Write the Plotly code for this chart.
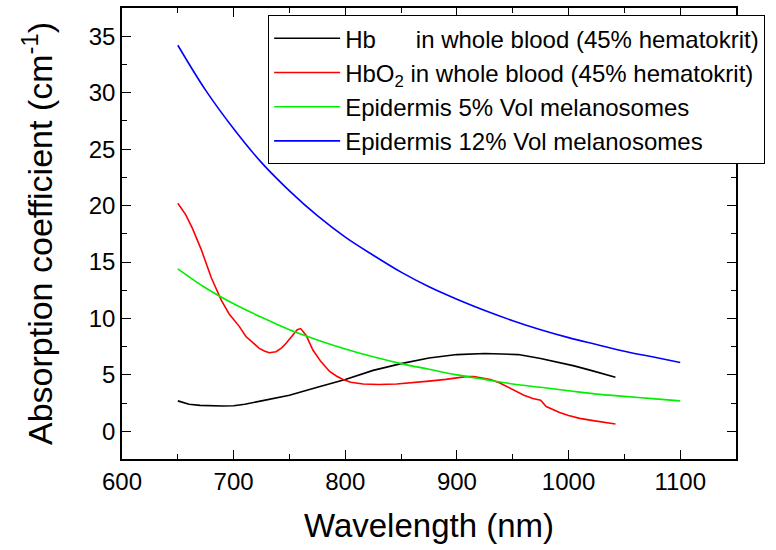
import plotly.graph_objects as go

# Data
wl_mel = [650, 675, 700, 725, 750, 775, 800, 825, 850, 875, 900, 925, 950, 975,
          1000, 1025, 1050, 1075, 1100]
epi12 = [34.2, 30.2, 26.8, 23.8, 21.3, 19.1, 17.2, 15.6, 14.1, 12.8, 11.7, 10.7,
         9.8, 9.0, 8.3, 7.7, 7.1, 6.6, 6.1]
epi5 = [14.4, 12.7, 11.3, 10.1, 9.0, 8.1, 7.3, 6.6, 6.0, 5.5, 5.0, 4.6, 4.2,
        3.9, 3.6, 3.3, 3.1, 2.9, 2.7]

wl_hb = [650, 660, 670, 680, 690, 700, 710, 725, 750, 775, 800, 825, 850, 875,
         900, 925, 940, 955, 975, 990, 1005, 1020, 1030, 1042]
hb = [2.7, 2.4, 2.3, 2.26, 2.25, 2.27, 2.4, 2.7, 3.2, 3.9, 4.6, 5.4, 6.0, 6.5,
      6.8, 6.9, 6.88, 6.8, 6.45, 6.15, 5.8, 5.4, 5.1, 4.8]

wl_hbo2 = [650, 657, 663, 671, 680, 689, 696, 705, 711, 718, 723, 728, 732, 738,
           743, 747, 752, 757, 760, 765, 771, 778, 786, 792, 798, 805, 816, 830,
           846, 860, 875, 890, 908, 915, 923, 930, 938, 945, 953, 960, 968, 975,
           980, 986, 992, 1000, 1010, 1022, 1032, 1042]
hbo2 = [20.2, 19.2, 18.0, 16.1, 13.6, 11.6, 10.4, 9.3, 8.4, 7.8, 7.35, 7.1, 6.96,
        7.05, 7.4, 7.8, 8.4, 9.0, 9.1, 8.5, 7.2, 6.2, 5.3, 4.9, 4.6, 4.35, 4.2,
        4.15, 4.2, 4.3, 4.45, 4.6, 4.85, 4.85, 4.75, 4.6, 4.3, 3.95, 3.5, 3.2,
        2.9, 2.75, 2.2, 1.9, 1.67, 1.4, 1.15, 0.95, 0.8, 0.65]

x_ticks = [600, 700, 800, 900, 1000, 1100]
y_ticks = [0, 5, 10, 15, 20, 25, 30, 35]

FONT = "Liberation Sans, Arial, sans-serif"
sp = "\u00a0"

fig = go.Figure()
fig.add_trace(go.Scatter(x=wl_hb, y=hb, mode="lines",
                         line=dict(color="#000000", width=1.6),
                         name="Hb" + sp * 6 + "in whole blood (45% hematokrit)"))
fig.add_trace(go.Scatter(x=wl_hbo2, y=hbo2, mode="lines",
                         line=dict(color="#ff0000", width=1.6),
                         name="HbO<sub>2</sub> in whole blood (45% hematokrit)"))
fig.add_trace(go.Scatter(x=wl_mel, y=epi5, mode="lines",
                         line=dict(color="#00ee00", width=1.6, shape="spline"),
                         name="Epidermis 5% Vol melanosomes"))
fig.add_trace(go.Scatter(x=wl_mel, y=epi12, mode="lines",
                         line=dict(color="#0000ff", width=1.6, shape="spline"),
                         name="Epidermis 12% Vol melanosomes"))

axis_common = dict(
    showgrid=False, zeroline=False, showline=True, linecolor="black",
    linewidth=1.5, mirror="ticks", ticks="inside", ticklen=9, tickwidth=1.3,
    tickcolor="black", tickfont=dict(family=FONT, size=24, color="black"),
)

fig.update_layout(
    width=776, height=550,
    margin=dict(l=122, r=40, t=6, b=91),
    paper_bgcolor="white", plot_bgcolor="white",
    font=dict(family=FONT, color="black"),
    xaxis=dict(
        range=[600, 1150], tickvals=x_ticks,
        minor=dict(dtick=50, tick0=600, ticks="inside", ticklen=5,
                   tickwidth=1.3, tickcolor="black"),
        title=dict(text="Wavelength (nm)", font=dict(family=FONT, size=33),
                   standoff=20),
        **axis_common,
    ),
    yaxis=dict(
        range=[-2.45, 37.5], tickvals=y_ticks,
        minor=dict(dtick=2.5, tick0=0, ticks="inside", ticklen=5,
                   tickwidth=1.3, tickcolor="black"),
        title=dict(text="Absorption coefficient (cm<sup>-1</sup>)",
                   font=dict(family=FONT, size=34), standoff=26),
        **axis_common,
    ),
    legend=dict(
        x=0.238, y=0.984, xanchor="left", yanchor="top",
        bgcolor="white", bordercolor="black", borderwidth=1,
        font=dict(family=FONT, size=24, color="black"),
        tracegroupgap=0, itemwidth=66,
    ),
    showlegend=True,
)

fig.write_html("out.html")
